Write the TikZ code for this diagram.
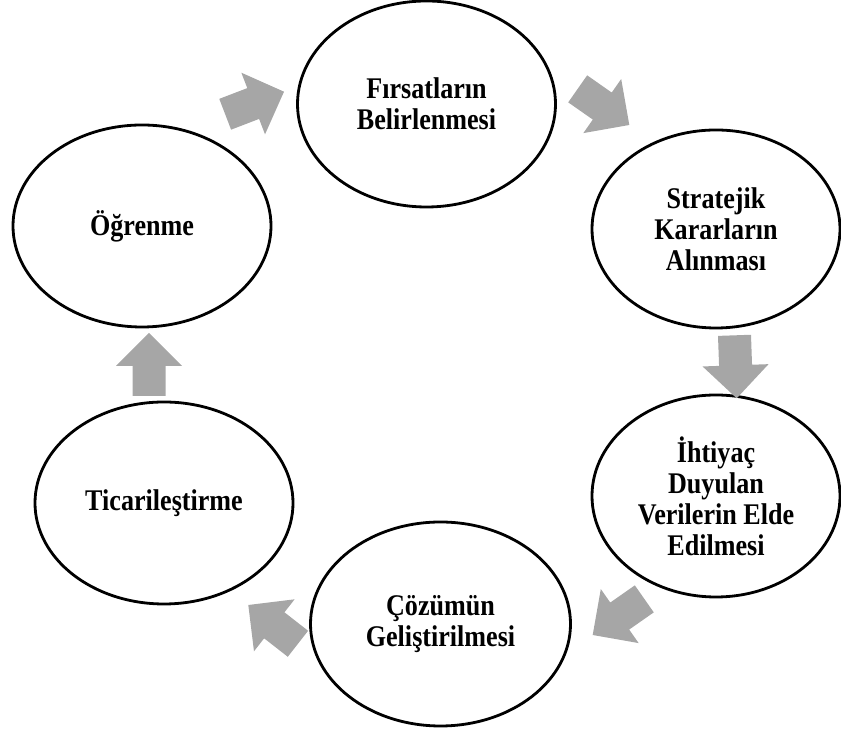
\documentclass[tikz,border=0pt]{standalone}
\usepackage{fontspec}
\setmainfont{Liberation Serif}[FakeStretch=0.87]
\usetikzlibrary{shapes.geometric}
\definecolor{arrowgray}{RGB}{166,166,166}
\tikzset{
  stage/.style={draw=black, line width=2.8pt, ellipse, inner sep=0pt, align=center,
    font=\bfseries\fontsize{30}{31}\selectfont},
  cyclearrow/.pic={\fill[arrowgray] (0,0) -- (-33,33) -- (-33,16.5) -- (-63,16.5)
     -- (-63,-16.5) -- (-33,-16.5) -- (-33,-33) -- cycle;}
}
\begin{document}
\begin{tikzpicture}[x=1pt,y=1pt]
\useasboundingbox (0,0) rectangle (841,730);
\node[stage, minimum width=258pt, minimum height=206pt] (e1) at (426.5,626) {Fırsatların\\Belirlenmesi};
\node[stage, minimum width=248pt, minimum height=198pt] (e2) at (716,501) {Stratejik\\Kararların\\Alınması};
\node[stage, minimum width=248pt, minimum height=202pt] (e3) at (716,234) {İhtiyaç\\Duyulan\\Verilerin Elde\\Edilmesi};
\node[stage, minimum width=260pt, minimum height=204pt] (e4) at (440.5,106) {Çözümün\\Geliştirilmesi};
\node[stage, minimum width=258pt, minimum height=202pt] (e5) at (164,227) {Ticarileştirme};
\node[stage, minimum width=258pt, minimum height=202pt] (e6) at (142,504) {Öğrenme};
\pic[rotate=21] at (284,638.3) {cyclearrow};
\pic[rotate=-35] at (629.3,605) {cyclearrow};
\pic[rotate=-88] at (736.7,331.7) {cyclearrow};
\pic[rotate=215] at (592.7,95) {cyclearrow};
\pic[rotate=142] at (248.3,125) {cyclearrow};
\pic[rotate=90] at (149,397) {cyclearrow};
\end{tikzpicture}
\end{document}
